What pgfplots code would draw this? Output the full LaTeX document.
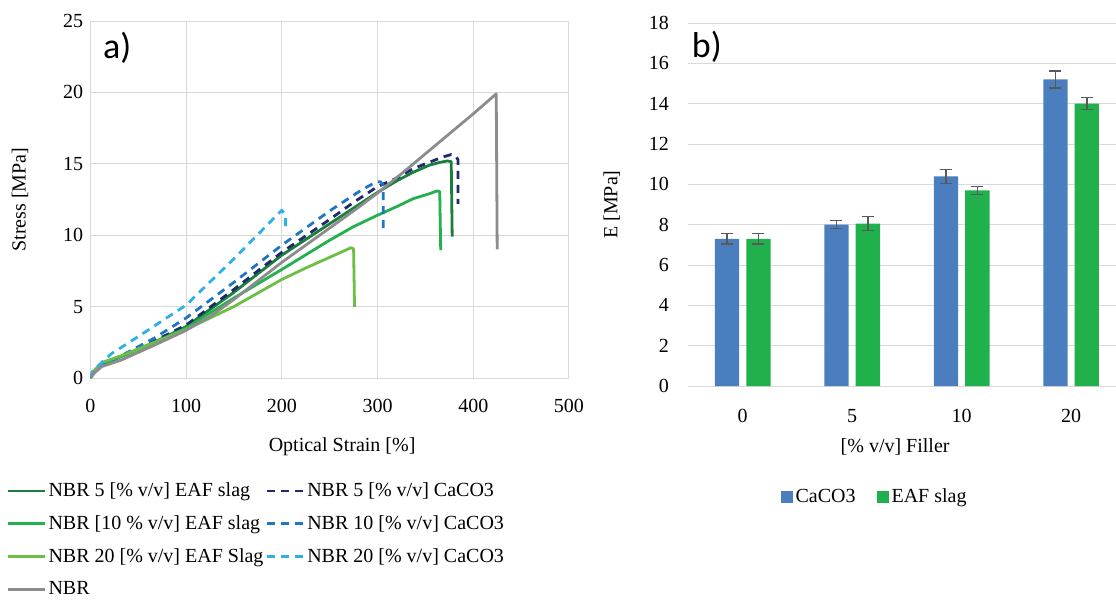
\documentclass[border=0pt]{standalone}
\usepackage{pgfplots}
\pgfplotsset{compat=1.18}
\usepackage{fontspec}
\setmainfont{Liberation Serif}
\newfontfamily\calibri{Carlito}

\definecolor{gridgray}{RGB}{217,217,217}
\definecolor{eafA}{HTML}{1A7F3C}
\definecolor{eafB}{HTML}{22B14C}
\definecolor{eafC}{HTML}{6BBF45}
\definecolor{cacoA}{HTML}{1F2A6B}
\definecolor{cacoB}{HTML}{1F77C4}
\definecolor{cacoC}{HTML}{2DB0E6}
\definecolor{nbrgray}{HTML}{8C8C8C}
\definecolor{barblue}{HTML}{4A7EBF}
\definecolor{bargreen}{HTML}{21B14C}
\definecolor{errgray}{HTML}{595959}

\begin{document}
\begin{tikzpicture}[x=1pt,y=1pt]
\path[use as bounding box] (0,0) rectangle (558,300.5);

% a) stress-strain curves
\begin{axis}[
    at={(45.15pt,111.5pt)}, anchor=south west,
    scale only axis, width=239.35pt, height=178.5pt,
    xmin=0, xmax=500, ymin=0, ymax=25,
    xtick={0,100,...,500}, ytick={0,5,...,25},
    grid=major, major grid style={gridgray, line width=0.5pt},
    axis line style={gridgray, line width=0.5pt},
    tick style={draw=none},
    /pgf/number format/assume math mode=true,
    every x tick label/.append style={yshift=-7pt},
    xlabel={Optical Strain [\%]},
    ylabel={Stress [MPa]},
    xlabel style={at={(axis description cs:0.526,-0.193)}, anchor=center},
    ylabel style={at={(axis description cs:-0.147,0.5)}, anchor=center},
    every axis plot/.append style={line width=1.4pt, line join=round},
    legend columns=2,
    legend cell align=left,
    legend style={draw=none, fill=none, at={(axis description cs:-0.188,-0.275)}, anchor=north west,
        /tikz/every even column/.append style={column sep=0pt},
        /tikz/row sep=6pt, nodes={inner sep=1pt}},
    legend image code/.code={\draw[#1] (0pt,0pt) -- (18.5pt,0pt);},
]
\addplot[eafA] coordinates {
 (0,0) (5,0.5) (13,1.0) (32,1.5) (67,2.5) (100,3.6) (150,6.0) (200,8.6)
 (250,10.8) (275,11.9) (300,13.0) (320,13.8) (337,14.4) (354,14.9)
 (365,15.1) (373,15.2) (377,15.15) (378,9.9)
};
\addlegendentry{NBR 5 [\% v/v] EAF slag}
\addplot[cacoA, dash pattern=on 4pt off 3pt] coordinates {
 (0,0) (5,0.5) (13,1.0) (32,1.5) (67,2.6) (100,3.7) (150,6.2) (200,8.8)
 (250,11.1) (275,12.3) (300,13.4) (320,14.0) (337,14.65) (354,15.1)
 (367,15.45) (377,15.65) (382,15.5) (384,15.3) (384,12.2)
};
\addlegendentry{NBR 5 [\% v/v] CaCO3}
\addplot[eafB] coordinates {
 (0,0) (5,0.5) (13,1.0) (32,1.5) (67,2.5) (100,3.5) (150,5.6) (200,7.6)
 (250,9.65) (275,10.6) (300,11.4) (320,12.0) (337,12.55) (354,12.9)
 (362,13.1) (365,13.05) (366,8.95)
};
\addlegendentry{NBR [10 \% v/v] EAF slag}
\addplot[cacoB, dash pattern=on 4pt off 3pt] coordinates {
 (0,0) (5,0.5) (13,1.0) (32,1.55) (67,2.8) (100,4.2) (150,6.7) (200,9.3)
 (250,11.7) (284,13.2) (298,13.7) (303,13.75) (306,13.5) (306,10.35)
};
\addlegendentry{NBR 10 [\% v/v] CaCO3}
\addplot[eafC] coordinates {
 (0,0) (5,0.6) (13,1.1) (32,1.55) (67,2.5) (100,3.4) (150,5.0) (200,6.9)
 (225,7.7) (250,8.45) (265,8.9) (272,9.12) (275,9.05) (276,4.98)
};
\addlegendentry{NBR 20 [\% v/v] EAF Slag}
\addplot[cacoC, dash pattern=on 4pt off 3pt] coordinates {
 (0,0) (2,0.45) (13,1.15) (22,1.7) (50,2.9) (100,5.1) (150,8.35) (200,11.75)
 (204,11.4) (204,10.5)
};
\addlegendentry{NBR 20 [\% v/v] CaCO3}
\addplot[nbrgray] coordinates {
 (0,0) (5,0.4) (12,0.8) (32,1.25) (67,2.3) (99,3.3) (125,4.3) (150,5.5)
 (175,6.8) (200,8.1) (225,9.3) (250,10.5) (275,11.7) (300,12.95) (325,14.3)
 (350,15.7) (375,17.1) (400,18.5) (424,19.9) (425,9.0)
};
\addlegendentry{NBR}
\node[font=\calibri\fontsize{18}{18}\selectfont, anchor=center] at (axis description cs:0.056,0.924) {a)};
\end{axis}

% b) modulus bars
\begin{axis}[
    at={(344pt,107.5pt)}, anchor=south west,
    scale only axis, width=214pt, height=181.5pt,
    xmin=-0.5, xmax=3.41, ymin=0, ymax=18,
    ybar, bar width=12.15pt,
    xtick={0,1,2,3}, xticklabels={0,5,10,20},
    ytick={0,2,...,18},
    ymajorgrids, major grid style={gridgray, line width=0.5pt},
    axis line style={draw=none},
    tick style={draw=none},
    /pgf/number format/assume math mode=true,
    every x tick label/.append style={yshift=-4pt},
    every y tick label/.append style={xshift=-6pt},
    xlabel={[\% v/v] Filler},
    ylabel={E [MPa]},
    xlabel style={at={(axis description cs:0.484,-0.168)}, anchor=center},
    ylabel style={at={(axis description cs:-0.178,0.5)}, anchor=center},
    legend columns=2,
    legend style={draw=none, fill=none, at={(axis description cs:0.437,-0.306)}, anchor=center,
        /tikz/every even column/.append style={column sep=9pt}, nodes={inner sep=1.5pt}},
    legend image code/.code={\fill[#1,/tikz/.cd] (0pt,-3pt) rectangle (6pt,3pt);},
    error bars/error bar style={errgray, line width=0.7pt},
    error bars/error mark options={errgray, rotate=90, mark size=3pt, line width=0.7pt},
]
\addplot[fill=barblue, draw=none, bar shift=-7.85pt,
    error bars/.cd, y dir=both, y explicit] coordinates {
 (0,7.3) +- (0,0.25) (1,8.0) +- (0,0.2) (2,10.4) +- (0,0.35) (3,15.2) +- (0,0.42)
};
\addlegendentry{CaCO3}
\addplot[fill=bargreen, draw=none, bar shift=7.85pt,
    error bars/.cd, y dir=both, y explicit] coordinates {
 (0,7.3) +- (0,0.25) (1,8.05) +- (0,0.35) (2,9.7) +- (0,0.2) (3,14.0) +- (0,0.3)
};
\addlegendentry{EAF slag}
\node[font=\calibri\fontsize{18}{18}\selectfont, anchor=center] at (axis description cs:0.044,0.934) {b)};
\end{axis}
\end{tikzpicture}
\end{document}
